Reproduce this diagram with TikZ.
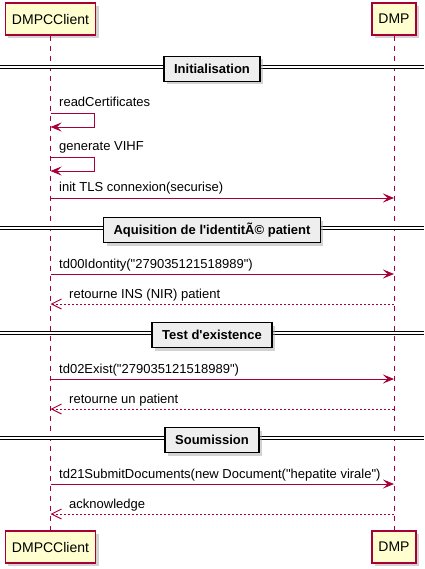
\documentclass[tikz,border=0pt]{standalone}
\usepackage{fontspec}
\setmainfont{Liberation Sans}[Ligatures=TeXOff]
\usetikzlibrary{arrows.meta,shadows}
\definecolor{lifered}{HTML}{A80036}
\definecolor{partfill}{HTML}{FEFECE}
\definecolor{divfill}{HTML}{EEEEEE}
\tikzset{
	participant/.style={draw=lifered, line width=1.2pt, fill=partfill, inner xsep=6.5pt, minimum height=32pt,
		font=\fontsize{14}{16}\selectfont, drop shadow={shadow xshift=3pt, shadow yshift=-3pt, fill=black!35}},
	lifeline/.style={draw=lifered, line width=0.8pt, dash pattern=on 5pt off 5pt},
	divider/.style={draw=black, line width=1.6pt, fill=divfill, inner xsep=10pt, minimum height=25pt,
		font=\fontsize{13}{15}\selectfont\bfseries, drop shadow={shadow xshift=3pt, shadow yshift=-3pt, fill=black!35}},
	sepline/.style={draw=black, line width=1pt, double=white, double distance=1.6pt},
	msg/.style={draw=lifered, line width=0.9pt, -{Stealth[length=11pt, width=9pt, inset=4.5pt]}},
	reply/.style={draw=lifered, line width=0.9pt, dash pattern=on 2pt off 2pt, -{Straight Barb[length=10pt, width=10pt]}},
	msgtext/.style={anchor=base west, inner sep=0pt, font=\fontsize{13}{15}\selectfont}
}

\begin{document}
\begin{tikzpicture}[x=1pt, y=-1pt]
	\useasboundingbox (0,0) rectangle (424,569);
	
	% participants
	\node[participant] (cliTop) at (50.5,19) {DMPCClient};
	\node[participant] (dmpTop) at (394,19) {DMP};
	\node[participant] (cliBot) at (50.5,547) {DMPCClient};
	\node[participant] (dmpBot) at (394,547) {DMP};
	
	\draw[lifeline] (cliTop) -- (cliBot);
	\draw[lifeline] (dmpTop) -- (dmpBot);
	
	% dividers
	\foreach \name/\y/\txt in {Init/69/Initialisation, Ident/230/Aquisition de l'identitÃ© patient,
		Exist/335/Test d'existence, Submit/440/Soumission}{
		\coordinate (left\name) at (0,\y-2);
		\coordinate (right\name) at (424,\y-2);
		\draw[sepline] (left\name) -- (right\name);
		\node[divider] (sec\name) at (212,\y) {\txt};
	}
	
	% self messages
	\coordinate (loopA) at (94,113);
	\coordinate (loopB) at (94,127);
	\draw[msg] (cliTop |- loopA) -- (loopA) -- (loopB) -- (cliTop |- loopB);
	\node[msgtext] (txtRead) at (59,107) {readCertificates};
	
	\coordinate (loopC) at (94,157);
	\coordinate (loopD) at (94,171);
	\draw[msg] (cliTop |- loopC) -- (loopC) -- (loopD) -- (cliTop |- loopD);
	\node[msgtext] (txtVihf) at (59,151) {generate VIHF};
	
	% calls and answers
	\coordinate (mTls) at (0,198);
	\draw[msg] (cliTop |- mTls) -- (dmpTop |- mTls);
	\node[msgtext] (txtTls) at (59,192) {init TLS connexion(securise)};
	
	\coordinate (mTd00) at (0,274);
	\draw[msg] (cliTop |- mTd00) -- (dmpTop |- mTd00);
	\node[msgtext] (txtTd00) at (59,268) {td00Idontity("279035121518989")};
	
	\coordinate (mIns) at (0,304);
	\draw[reply] (dmpTop |- mIns) -- (cliTop |- mIns);
	\node[msgtext] (txtIns) at (69,298) {retourne INS (NIR) patient};
	
	\coordinate (mTd02) at (0,379);
	\draw[msg] (cliTop |- mTd02) -- (dmpTop |- mTd02);
	\node[msgtext] (txtTd02) at (59,373) {td02Exist("279035121518989")};
	
	\coordinate (mPat) at (0,409);
	\draw[reply] (dmpTop |- mPat) -- (cliTop |- mPat);
	\node[msgtext] (txtPat) at (69,403) {retourne un patient};
	
	\coordinate (mTd21) at (0,484);
	\draw[msg] (cliTop |- mTd21) -- (dmpTop |- mTd21);
	\node[msgtext] (txtTd21) at (59,478) {td21SubmitDocuments(new Document("hepatite virale")};
	
	\coordinate (mAck) at (0,514);
	\draw[reply] (dmpTop |- mAck) -- (cliTop |- mAck);
	\node[msgtext] (txtAck) at (69,508) {acknowledge};
\end{tikzpicture}
\end{document}
